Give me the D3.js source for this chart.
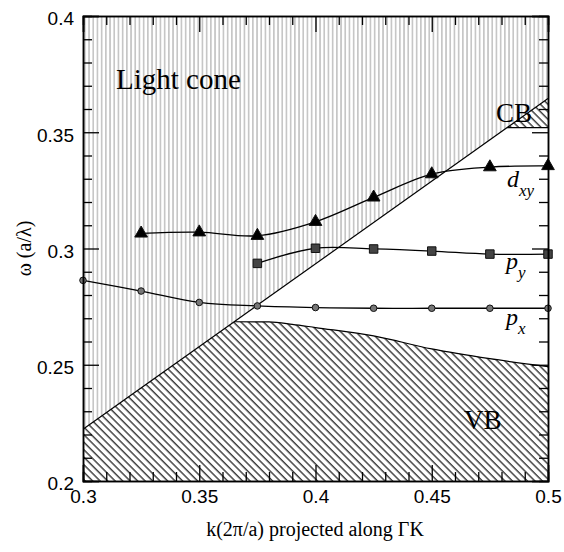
<!DOCTYPE html>
<html>
<head>
<meta charset="utf-8">
<script src="https://cdn.jsdelivr.net/npm/d3@7"></script>
<style>
  body { margin: 0; background: #fff; }
  svg { display: block; }
</style>
</head>
<body>
<div id="chart"></div>
<script>
// band-structure data
const kAll = [0.3, 0.325, 0.35, 0.375, 0.4, 0.425, 0.45, 0.475, 0.5];
const dxyK = [0.325, 0.35, 0.375, 0.4, 0.425, 0.45, 0.475, 0.5];
const dxyW = [0.3065, 0.3070, 0.3055, 0.3115, 0.3220, 0.3320, 0.3350, 0.3355];
const pyK = [0.375, 0.4, 0.425, 0.45, 0.475, 0.5];
const pyW = [0.2936, 0.3001, 0.2998, 0.2989, 0.2976, 0.2976];
const pxW = [0.2863, 0.2817, 0.2768, 0.2753, 0.2746, 0.2743, 0.2743, 0.2743, 0.2743];

// light line end points and band edges
const lightK = [0.3, 0.5];
const lightW = [0.2223, 0.3645];
const vbTopK = [0.38, 0.39, 0.40, 0.425, 0.45, 0.475, 0.5];
const vbTopW = [0.2684, 0.2674, 0.2660, 0.2624, 0.2568, 0.2526, 0.2492];
const vbFlat = 0.2685;
const cbLevel = 0.352;

const xMajor = [0.3, 0.35, 0.4, 0.45, 0.5];
const yMajor = [0.2, 0.25, 0.3, 0.35, 0.4];

const width = 564, height = 552;
const margin = {left: 83, right: 16, top: 16, bottom: 71};

const x = d3.scaleLinear().domain([0.3, 0.5]).range([margin.left, width - margin.right]);
const y = d3.scaleLinear().domain([0.2, 0.4]).range([height - margin.bottom, margin.top]);

const svg = d3.select('#chart').append('svg')
  .attr('width', width)
  .attr('height', height);

const defs = svg.append('defs');
defs.append('pattern')
  .attr('id', 'vstripe')
  .attr('patternUnits', 'userSpaceOnUse')
  .attr('width', 4.2).attr('height', 10)
  .append('rect')
  .attr('x', 0).attr('y', 0).attr('width', 1.7).attr('height', 10)
  .attr('fill', '#c6c6c6');

const hatch = defs.append('pattern')
  .attr('id', 'hatch')
  .attr('patternUnits', 'userSpaceOnUse')
  .attr('width', 5.3).attr('height', 10)
  .attr('patternTransform', 'rotate(-45)');
hatch.append('line')
  .attr('x1', 1).attr('y1', 0).attr('x2', 1).attr('y2', 10)
  .attr('stroke', '#000').attr('stroke-width', 1.1);

defs.append('clipPath').attr('id', 'plotclip')
  .append('rect')
  .attr('x', x(0.3)).attr('y', y(0.4))
  .attr('width', x(0.5) - x(0.3)).attr('height', y(0.2) - y(0.4));

const lightAt = w => lightK[0] + (w - lightW[0]) * (lightK[1] - lightK[0]) / (lightW[1] - lightW[0]);
const kVB = lightAt(vbFlat);
const kCB = lightAt(cbLevel);

const poly = d3.line().x(d => x(d[0])).y(d => y(d[1]));
const plot = svg.append('g').attr('clip-path', 'url(#plotclip)');

// light cone
const conePts = [[0.3, 0.4], [0.5, 0.4], [lightK[1], lightW[1]], [lightK[0], lightW[0]]];
plot.append('path')
  .attr('d', poly(conePts) + 'Z')
  .attr('fill', 'url(#vstripe)');

// valence band
const vbEdge = [[lightK[0], lightW[0]], [kVB, vbFlat]].concat(vbTopK.map((k, i) => [k, vbTopW[i]]));
plot.append('path')
  .attr('d', poly(vbEdge.concat([[0.5, 0.2], [0.3, 0.2]])) + 'Z')
  .attr('fill', 'url(#hatch)');
plot.append('path')
  .attr('d', d3.line().x(d => x(d[0])).y(d => y(d[1])).curve(d3.curveMonotoneX)(vbEdge.slice(1)))
  .attr('fill', 'none').attr('stroke', '#000').attr('stroke-width', 1.2);

// conduction band corner
const cbPts = [[kCB, cbLevel], [0.5, cbLevel], [lightK[1], lightW[1]]];
plot.append('path')
  .attr('d', poly(cbPts) + 'Z')
  .attr('fill', 'url(#hatch)');
plot.append('path')
  .attr('d', poly([[kCB, cbLevel], [0.5, cbLevel]]))
  .attr('fill', 'none').attr('stroke', '#000').attr('stroke-width', 1.2);

// light line
plot.append('path')
  .attr('d', poly(lightK.map((k, i) => [k, lightW[i]])))
  .attr('fill', 'none').attr('stroke', '#000').attr('stroke-width', 1.2);

// modes
const curve = d3.line().x(d => x(d[0])).y(d => y(d[1])).curve(d3.curveCatmullRom);
const series = [
  {pts: dxyK.map((k, i) => [k, dxyW[i]]), sym: d3.symbolTriangle, size: 70, fill: '#000'},
  {pts: pyK.map((k, i) => [k, pyW[i]]), sym: d3.symbolSquare, size: 72, fill: '#444'},
  {pts: kAll.map((k, i) => [k, pxW[i]]), sym: d3.symbolCircle, size: 34, fill: '#777'}
];
series.forEach(s => {
  plot.append('path')
    .attr('d', curve(s.pts))
    .attr('fill', 'none').attr('stroke', '#000').attr('stroke-width', 1.3);
  svg.append('g').selectAll('path')
    .data(s.pts)
    .enter()
    .append('path')
    .attr('transform', d => `translate(${x(d[0])},${y(d[1])})`)
    .attr('d', d3.symbol().type(s.sym).size(s.size))
    .attr('fill', s.fill)
    .attr('stroke', '#111').attr('stroke-width', 1);
});

// text inside the plot
const serif = '"Liberation Serif", "Times New Roman", serif';
svg.append('text').attr('x', 116).attr('y', 89)
  .style('font-family', serif).style('font-size', '29px').text('Light cone');
svg.append('text').attr('x', 496).attr('y', 122)
  .style('font-family', serif).style('font-size', '27px').text('CB');
svg.append('text').attr('x', 464).attr('y', 429)
  .style('font-family', serif).style('font-size', '27px').text('VB');

const modeLabels = [
  {main: 'd', sub: 'xy', x: 507, y: 187},
  {main: 'p', sub: 'y', x: 506, y: 269},
  {main: 'p', sub: 'x', x: 506, y: 325}
];
modeLabels.forEach(l => {
  const t = svg.append('text').attr('x', l.x).attr('y', l.y)
    .style('font-family', serif).style('font-style', 'italic').style('font-size', '24px');
  t.append('tspan').text(l.main);
  t.append('tspan').attr('dy', 9).style('font-size', '17px').text(l.sub);
});

// axes with inward ticks on all sides
const xMinor = d3.range(0.3, 0.5001, 0.01).filter(v => !xMajor.some(m => Math.abs(m - v) < 1e-6));
const yMinor = d3.range(0.2, 0.4001, 0.01).filter(v => !yMajor.some(m => Math.abs(m - v) < 1e-6));
const sans = '"Liberation Sans", Arial, sans-serif';

function addAxis(axisFn, scale, transform, major, minor, labels) {
  const g = svg.append('g').attr('transform', transform);
  g.call(axisFn(scale).tickValues(minor).tickSize(-9).tickFormat(''));
  g.append('g').call(axisFn(scale).tickValues(major).tickSize(-16).tickPadding(9)
    .tickFormat(labels ? d3.format('') : ''));
  g.selectAll('.domain').attr('stroke-width', 1.5);
  g.selectAll('line').attr('stroke', '#000').attr('stroke-width', 1.3);
  g.selectAll('text').style('font-family', sans).style('font-size', '19px').attr('fill', '#000');
  return g;
}
addAxis(d3.axisBottom, x, `translate(0,${y(0.2)})`, xMajor, xMinor, true);
addAxis(d3.axisTop, x, `translate(0,${y(0.4)})`, xMajor, xMinor, false);
const yAx = addAxis(d3.axisLeft, y, `translate(${x(0.3)},0)`, yMajor, yMinor, true);
yAx.selectAll('text').attr('dy', '0.47em');
addAxis(d3.axisRight, y, `translate(${x(0.5)},0)`, yMajor, yMinor, false);

// axis titles
svg.append('text')
  .attr('x', 315).attr('y', 536)
  .attr('text-anchor', 'middle')
  .style('font-family', serif).style('font-size', '20px')
  .text('k(2π/a) projected along ΓK');
svg.append('text')
  .attr('transform', `translate(31,${(y(0.2) + y(0.4)) / 2}) rotate(-90)`)
  .attr('text-anchor', 'middle')
  .style('font-family', serif).style('font-size', '20px')
  .text('ω (a/λ)');
</script>
</body>
</html>
